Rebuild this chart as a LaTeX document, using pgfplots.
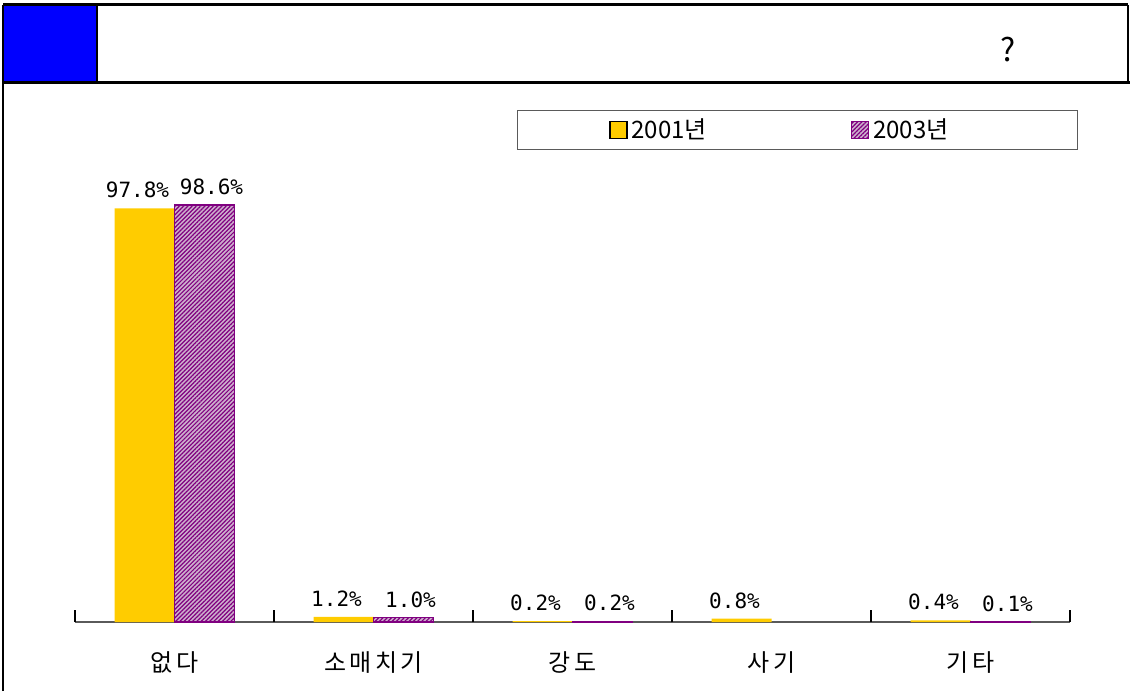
\documentclass[border=0pt]{standalone}
\usepackage{fontspec}
\setmainfont{Noto Sans CJK KR}
\newfontfamily\catfont[LetterSpace=14]{Noto Sans CJK KR}
\newfontfamily\numfont{DejaVu Sans Mono}
\usepackage{pgfplots}
\pgfplotsset{compat=1.18}
\usetikzlibrary{patterns.meta}
\definecolor{barY}{RGB}{255,204,0}
\definecolor{barP}{RGB}{128,0,128}
\definecolor{barPbg}{RGB}{205,175,205}
\definecolor{axgray}{RGB}{90,90,90}

\pgfplotstableread{
x  v
0  97.8
1  1.2
2  0.2
3  0.8
4  0.4
}\yrA
\pgfplotstableread{
x  v
0  98.6
1  1.0
2  0.2
4  0.1
}\yrB

\begin{document}
\begin{tikzpicture}
\useasboundingbox (0,0) rectangle (565pt,345.5pt);
% frame (1px = 0.5pt)
\fill[blue] (1.5pt,304pt) rectangle (48.5pt,343pt);
\draw[line width=1.5pt] (1.5pt,343pt) -- (564pt,343pt);
\draw[line width=1.5pt] (1.5pt,304pt) -- (565pt,304pt);
\draw[line width=1.2pt] (48.5pt,304pt) -- (48.5pt,343pt);
\draw[line width=1.2pt] (564pt,304pt) -- (564pt,343pt);
\draw[line width=1.2pt] (1.5pt,0pt) -- (1.5pt,343pt);
\node[font=\fontsize{16}{18}\selectfont] at (504pt,320.5pt) {?};

\begin{axis}[
    at={(37.5pt,34.5pt)}, anchor=south west,
    scale only axis,
    width=497.5pt, height=211.5pt,
    ybar=0pt, bar width=30pt,
    xmin=-0.5, xmax=4.5, ymin=0, ymax=100,
    enlarge x limits=false,
    hide y axis,
    axis x line*=bottom,
    x axis line style={axgray, line width=0.8pt},
    xtick={0,1,2,3,4},
    xticklabels={없다, 소매치기, 강도, 사기, 기타},
    major x tick style={draw=none},
    extra x ticks={-0.5,0.5,1.5,2.5,3.5,4.5},
    extra x tick labels={},
    extra x tick style={major tick length=6pt, tick align=inside,
        major x tick style={draw=black, line width=0.6pt}},
    x tick label style={font=\catfont\fontsize{12}{14}\selectfont, yshift=-7pt},
    /pgf/number format/assume math mode=true,
    nodes near coords={\pgfmathprintnumber[fixed,fixed zerofill,precision=1]{\pgfplotspointmeta}\%},
    every node near coord/.append style={font=\numfont\fontsize{10.5}{12}\selectfont, yshift=1.5pt},
    legend style={at={(0.444,1.21)}, anchor=north west, draw=axgray,
        line width=0.6pt, inner xsep=46pt, inner ysep=2pt,
        font=\fontsize{12}{14}\selectfont,
        /tikz/every even column/.append style={column sep=70pt}},
    legend columns=2,
    legend image code/.code={\draw[#1] (0pt,-4.2pt) rectangle (8.5pt,4.2pt);},
]
\addplot[fill=barY, draw=none,
    every node near coord/.append style={xshift=-3.5pt}]
    table[x=x, y=v] {\yrA};
\addplot[fill=barPbg, draw=barP, line width=0.6pt,
    postaction={pattern={Lines[angle=45,distance=1.5pt,line width=0.6pt]}, pattern color=barP},
    every node near coord/.append style={xshift=3.5pt}]
    table[x=x, y=v] {\yrB};
\legend{2001년, 2003년\rule{16.5pt}{0pt}}
\end{axis}
\end{tikzpicture}
\end{document}
